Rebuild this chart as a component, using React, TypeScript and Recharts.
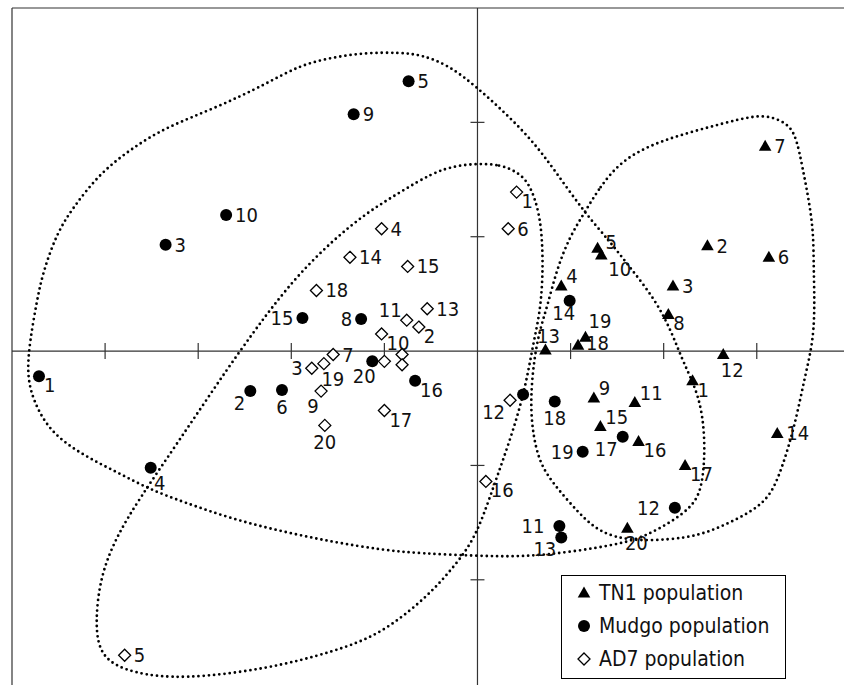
import React from 'react'
import { ScatterChart, Scatter, XAxis, YAxis, ReferenceLine, Legend } from 'recharts'

const FONT = "'DejaVu Sans Condensed', 'DejaVu Sans', sans-serif"

// TN1 population (filled triangles)
const tn1 = [
  { id: '1', x: 2.31, y: -0.26 },
  { id: '2', x: 2.47, y: 0.92 },
  { id: '3', x: 2.1, y: 0.57 },
  { id: '4', x: 0.9, y: 0.57 },
  { id: '5', x: 1.29, y: 0.9 },
  { id: '6', x: 3.13, y: 0.82 },
  { id: '7', x: 3.09, y: 1.79 },
  { id: '8', x: 2.05, y: 0.32 },
  { id: '9', x: 1.25, y: -0.41 },
  { id: '10', x: 1.33, y: 0.84 },
  { id: '11', x: 1.69, y: -0.45 },
  { id: '12', x: 2.64, y: -0.03 },
  { id: '13', x: 0.73, y: 0.01 },
  { id: '14', x: 3.22, y: -0.72 },
  { id: '15', x: 1.32, y: -0.66 },
  { id: '16', x: 1.73, y: -0.79 },
  { id: '17', x: 2.23, y: -1.0 },
  { id: '18', x: 1.08, y: 0.05 },
  { id: '19', x: 1.16, y: 0.12 },
  { id: '20', x: 1.61, y: -1.55 },
]

// Mudgo population (filled circles)
const mudgo = [
  { id: '1', x: -4.71, y: -0.22 },
  { id: '2', x: -2.44, y: -0.35 },
  { id: '3', x: -3.35, y: 0.93 },
  { id: '4', x: -3.51, y: -1.02 },
  { id: '5', x: -0.74, y: 2.36 },
  { id: '6', x: -2.1, y: -0.34 },
  { id: '7', x: 0.49, y: -0.38 },
  { id: '8', x: -1.25, y: 0.28 },
  { id: '9', x: -1.33, y: 2.07 },
  { id: '10', x: -2.7, y: 1.19 },
  { id: '11', x: 0.88, y: -1.53 },
  { id: '12', x: 2.12, y: -1.37 },
  { id: '13', x: 0.9, y: -1.63 },
  { id: '14', x: 0.99, y: 0.44 },
  { id: '15', x: -1.88, y: 0.29 },
  { id: '16', x: -0.67, y: -0.26 },
  { id: '17', x: 1.56, y: -0.75 },
  { id: '18', x: 0.83, y: -0.44 },
  { id: '19', x: 1.13, y: -0.88 },
  { id: '20', x: -1.13, y: -0.09 },
]

// AD7 population (open diamonds)
const ad7 = [
  { id: '1', x: 0.42, y: 1.39 },
  { id: '2', x: -0.63, y: 0.21 },
  { id: '3', x: -1.78, y: -0.15 },
  { id: '4', x: -1.03, y: 1.07 },
  { id: '5', x: -3.79, y: -2.66 },
  { id: '6', x: 0.33, y: 1.07 },
  { id: '7', x: -1.55, y: -0.03 },
  { id: '8', x: -1.0, y: -0.09 },
  { id: '9', x: -1.68, y: -0.35 },
  { id: '10', x: -1.03, y: 0.15 },
  { id: '11', x: -0.76, y: 0.27 },
  { id: '12', x: 0.35, y: -0.43 },
  { id: '13', x: -0.54, y: 0.37 },
  { id: '14', x: -1.37, y: 0.82 },
  { id: '15', x: -0.75, y: 0.74 },
  { id: '16', x: 0.09, y: -1.14 },
  { id: '17', x: -1.0, y: -0.52 },
  { id: '18', x: -1.73, y: 0.53 },
  { id: '19', x: -1.65, y: -0.11 },
  { id: '20', x: -1.64, y: -0.65 },
  { id: '', x: -0.81, y: -0.03 },
  { id: '', x: -0.81, y: -0.12 },
]

// where each point label sits relative to its marker
const tn1LabelPos = ['rb', 'r', 'r', 'ru', 'rt5', 'r', 'r', 'rb', 'ru', 'rbb', 'ru', 'br', 'u', 'r', 'ru', 'rb', 'rb', 'rt', 'ruu', 'br']
const mudgoLabelPos = ['rb', 'lb', 'r', 'br', 'r', 'b', '', 'l', 'r', 'r', 'll', 'll', 'lb', 'bm', 'l', 'rb', 'lb', 'b', 'l', 'bl']
const ad7LabelPos = ['rb', 'rb', 'l', 'r', 'r', 'r', 'r', '', 'bl', 'rb', 'lu', 'lb', 'r', 'r', 'r', 'rb', 'rb', 'r', 'br', 'b', '', '']

// dotted group outlines (closed curves)
const ad7Outline = [
  [0.01, 1.64], [0.24, 1.63], [0.42, 1.57], [0.56, 1.47], [0.67, 1.2], [0.7, 0.91], [0.7, 0.62],
  [0.67, 0.33], [0.6, 0.07], [0.51, -0.34], [0.37, -0.73], [0.21, -1.1], [0.06, -1.45], [-0.08, -1.71],
  [-0.35, -1.98], [-0.6, -2.19], [-1.05, -2.48], [-1.55, -2.63], [-2.26, -2.78], [-3.16, -2.87],
  [-3.7, -2.82], [-4.05, -2.69], [-4.11, -2.39], [-4.05, -1.96], [-3.87, -1.61], [-3.63, -1.29],
  [-3.27, -0.86], [-2.98, -0.51], [-2.69, -0.16], [-2.41, 0.16], [-2.2, 0.39], [-1.91, 0.68],
  [-1.55, 0.97], [-1.19, 1.21], [-0.83, 1.39], [-0.48, 1.56], [-0.24, 1.62],
]
const mudgoOutline = [
  [1.15, 1.21], [1.41, 0.97], [1.63, 0.74], [1.91, 0.45], [2.09, 0.16], [2.21, -0.1], [2.39, -0.4],
  [2.45, -0.78], [2.42, -1.19], [2.31, -1.36], [2.07, -1.5], [1.82, -1.61], [1.58, -1.68], [0.99, -1.76],
  [0.46, -1.8], [-0.03, -1.79], [-0.6, -1.77], [-1.02, -1.74], [-1.55, -1.67], [-2.09, -1.58],
  [-2.63, -1.47], [-3.16, -1.32], [-3.52, -1.21], [-3.87, -1.06], [-4.24, -0.91], [-4.59, -0.71],
  [-4.77, -0.44], [-4.84, -0.21], [-4.81, 0.08], [-4.73, 0.45], [-4.67, 0.68], [-4.52, 1.03],
  [-4.34, 1.26], [-4.05, 1.56], [-3.7, 1.78], [-3.34, 1.96], [-2.8, 2.13], [-2.26, 2.34], [-1.91, 2.5],
  [-1.55, 2.57], [-1.19, 2.61], [-0.83, 2.61], [-0.6, 2.59], [-0.31, 2.5], [-0.01, 2.31], [0.3, 2.08],
  [0.59, 1.84], [0.83, 1.58],
]
const tn1Outline = [
  [1.15, 1.21], [1.31, 1.43], [1.55, 1.67], [1.91, 1.82], [2.27, 1.91], [2.63, 1.99], [2.98, 2.06],
  [3.16, 2.05], [3.35, 1.98], [3.43, 1.85], [3.49, 1.61], [3.56, 1.32], [3.61, 1.03], [3.61, 0.73],
  [3.63, 0.16], [3.52, -0.21], [3.41, -0.65], [3.27, -1.03], [3.14, -1.28], [2.93, -1.41], [2.66, -1.52],
  [2.39, -1.61], [2.07, -1.65], [1.64, -1.66], [1.32, -1.59], [1.1, -1.43], [0.78, -1.13], [0.64, -0.93],
  [0.56, -0.54], [0.6, -0.1], [0.67, 0.19], [0.75, 0.39], [0.85, 0.71], [0.99, 1.0],
]

const xTicks = [-4, -3, -2, -1, 1, 2, 3]
const yTicks = [-2, -1, 1, 2]

const legendNames = ['TN1 population', 'Mudgo population', 'AD7 population']
const legendKinds = ['tri', 'dot', 'diamond']

const LABEL_OFFSETS: Record<string, [number, number, string]> = {
  r: [9, 0, 'start'],
  rt: [8, -2, 'start'],
  rt5: [8, -6, 'start'],
  ru: [5, -10, 'start'],
  ruu: [3, -16, 'start'],
  rb: [5, 9, 'start'],
  rbb: [7, 14, 'start'],
  l: [-9, 0, 'end'],
  ll: [-15, 0, 'end'],
  lb: [-5, 12, 'end'],
  lu: [-5, -10, 'end'],
  b: [0, 17, 'middle'],
  bm: [-6, 12, 'middle'],
  bl: [-8, 15, 'middle'],
  br: [9, 15, 'middle'],
  u: [3, -14, 'middle'],
}

const toPoints = (pts: number[][]) => pts.map(([x, y]) => ({ x, y }))

function Marker({ kind, cx, cy }: { kind: string; cx: number; cy: number }) {
  if (kind === 'tri') {
    return <path d={`M${cx},${cy - 6.5}L${cx + 6.3},${cy + 4.5}L${cx - 6.3},${cy + 4.5}Z`} fill="#000" />
  }
  if (kind === 'dot') {
    return <circle cx={cx} cy={cy} r={6} fill="#000" />
  }
  return (
    <path
      d={`M${cx},${cy - 6}L${cx + 6},${cy}L${cx},${cy + 6}L${cx - 6},${cy}Z`}
      fill="#fff"
      stroke="#000"
      strokeWidth={1.3}
    />
  )
}

const pointShape = (kind: string) => (props: any) => {
  const { cx, cy, payload } = props
  const o = LABEL_OFFSETS[payload.pos]
  return (
    <g>
      <Marker kind={kind} cx={cx} cy={cy} />
      {o && payload.id && (
        <text
          x={cx + o[0]}
          y={cy + o[1]}
          textAnchor={o[2] as any}
          dominantBaseline="central"
          fontFamily={FONT}
          fontSize={20}
          fill="#111"
        >
          {payload.id}
        </text>
      )}
    </g>
  )
}

const noShape = () => <g />

const outlineLine = {
  stroke: '#000',
  strokeWidth: 2.8,
  strokeDasharray: '0 5.2',
  strokeLinecap: 'round',
  fill: 'none',
}

function LegendBox() {
  return (
    <div
      style={{
        width: 225,
        height: 104,
        boxSizing: 'border-box',
        border: '1px solid #000',
        background: '#fff',
        fontFamily: FONT,
        fontSize: 21,
        color: '#111',
      }}
    >
      {legendNames.map((name, i) => (
        <div key={name} style={{ height: 33, display: 'flex', alignItems: 'center' }}>
          <svg width={37} height={20} style={{ flex: 'none' }}>
            <Marker kind={legendKinds[i]} cx={22} cy={10} />
          </svg>
          <span>{name}</span>
        </div>
      ))}
    </div>
  )
}

export default function App() {
  const tn1Data = tn1.map((p, i) => ({ ...p, pos: tn1LabelPos[i] }))
  const mudgoData = mudgo.map((p, i) => ({ ...p, pos: mudgoLabelPos[i] }))
  const ad7Data = ad7.map((p, i) => ({ ...p, pos: ad7LabelPos[i] }))

  return (
    <div style={{ position: 'absolute', left: 0, top: 0, width: 844, height: 685, background: '#fff' }}>
      <ScatterChart width={844} height={685} margin={{ top: 8, right: 0, bottom: 0, left: 12 }}>
        <XAxis type="number" dataKey="x" domain={[-5, 3.937]} allowDataOverflow hide />
        <YAxis type="number" dataKey="y" domain={[-2.92, 3]} allowDataOverflow hide />

        {/* frame (left and top edges only visible) */}
        <ReferenceLine x={-5} stroke="#333" strokeWidth={1.2} />
        <ReferenceLine y={3} stroke="#333" strokeWidth={1.2} />

        {/* axes through the origin */}
        <ReferenceLine x={0} stroke="#333" strokeWidth={1.2} />
        <ReferenceLine y={0} stroke="#333" strokeWidth={1.2} />
        {xTicks.map(t => (
          <ReferenceLine
            key={'xt' + t}
            segment={[{ x: t, y: -0.07 }, { x: t, y: 0.07 }]}
            stroke="#333"
            strokeWidth={1.2}
          />
        ))}
        {yTicks.map(t => (
          <ReferenceLine
            key={'yt' + t}
            segment={[{ x: -0.075, y: t }, { x: 0.075, y: t }]}
            stroke="#333"
            strokeWidth={1.2}
          />
        ))}

        <Scatter
          data={toPoints(mudgoOutline)}
          line={outlineLine}
          lineJointType="basisClosed"
          shape={noShape}
          legendType="none"
          isAnimationActive={false}
        />
        <Scatter
          data={toPoints(tn1Outline)}
          line={outlineLine}
          lineJointType="basisClosed"
          shape={noShape}
          legendType="none"
          isAnimationActive={false}
        />
        <Scatter
          data={toPoints(ad7Outline)}
          line={outlineLine}
          lineJointType="basisClosed"
          shape={noShape}
          legendType="none"
          isAnimationActive={false}
        />

        <Scatter name="AD7 population" data={ad7Data} shape={pointShape('diamond')} isAnimationActive={false} />
        <Scatter name="Mudgo population" data={mudgoData} shape={pointShape('dot')} isAnimationActive={false} />
        <Scatter name="TN1 population" data={tn1Data} shape={pointShape('tri')} isAnimationActive={false} />

        <Legend
          layout="vertical"
          align="center"
          verticalAlign="middle"
          content={() => <LegendBox />}
          wrapperStyle={{ position: 'absolute', left: 561, top: 575, width: 225, height: 104 }}
        />
      </ScatterChart>
    </div>
  )
}
